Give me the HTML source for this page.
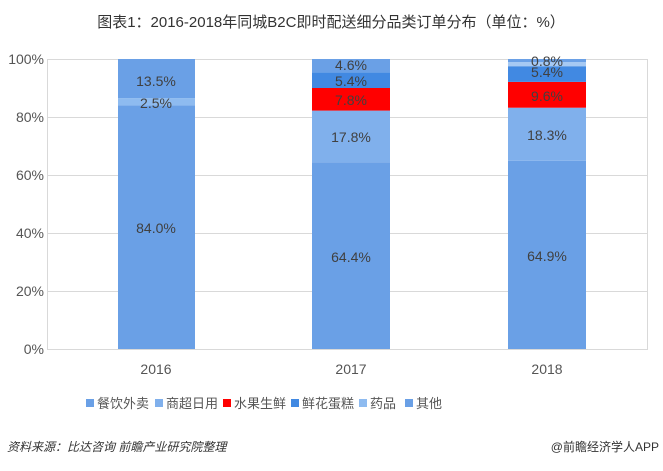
<!DOCTYPE html>
<html><head><meta charset="utf-8"><style>
body{margin:0;background:#fff;}
svg text{font-family:"Liberation Sans","Noto Sans CJK SC",sans-serif;}
</style></head><body>
<svg width="663" height="466" viewBox="0 0 663 466" xmlns="http://www.w3.org/2000/svg">
<rect width="663" height="466" fill="#fff"/>
<text x="331" y="27" text-anchor="middle" font-size="15" fill="#333">图表1：2016-2018年同城B2C即时配送细分品类订单分布（单位：%）</text>
<g stroke="#d9d9d9" stroke-width="1">
<rect x="47.5" y="59.5" width="600" height="290" fill="none"/>
<line x1="47" y1="117.5" x2="648" y2="117.5"/>
<line x1="47" y1="175.5" x2="648" y2="175.5"/>
<line x1="47" y1="233.5" x2="648" y2="233.5"/>
<line x1="47" y1="291.5" x2="648" y2="291.5"/>
</g>
<g font-size="14" fill="#555" text-anchor="end">
<text x="44" y="64">100%</text><text x="44" y="122">80%</text><text x="44" y="180">60%</text>
<text x="44" y="238">40%</text><text x="44" y="296">20%</text><text x="44" y="354">0%</text>
</g>
<rect x="118" y="105.4" width="77" height="243.6" fill="#6aa0e6"/>
<rect x="118" y="98.1" width="77" height="7.3" fill="#8ebbf0"/>
<rect x="118" y="59" width="77" height="39.1" fill="#6aa0e6"/>
<rect x="312" y="162.2" width="78" height="186.8" fill="#6aa0e6"/>
<rect x="312" y="110.6" width="78" height="51.6" fill="#80b0ec"/>
<rect x="312" y="88" width="78" height="22.6" fill="#ff0000"/>
<rect x="312" y="72.3" width="78" height="15.7" fill="#4189e2"/>
<rect x="312" y="59" width="78" height="13.3" fill="#6aa0e6"/>
<rect x="508" y="160.8" width="78" height="188.2" fill="#6aa0e6"/>
<rect x="508" y="107.7" width="78" height="53.1" fill="#80b0ec"/>
<rect x="508" y="81.9" width="78" height="25.8" fill="#ff0000"/>
<rect x="508" y="66.2" width="78" height="15.7" fill="#4189e2"/>
<rect x="508" y="62" width="78" height="4.2" fill="#a6c9f3"/>
<rect x="508" y="59" width="78" height="3" fill="#6aa0e6"/>
<g font-size="14" fill="#404040" text-anchor="middle">
<text x="156" y="233">84.0%</text><text x="156" y="108">2.5%</text><text x="156" y="86">13.5%</text>
<text x="351" y="262">64.4%</text><text x="351" y="142">17.8%</text><text x="351" y="105">7.8%</text><text x="351" y="86">5.4%</text><text x="351" y="70">4.6%</text>
<text x="547" y="261">64.9%</text><text x="547" y="140">18.3%</text><text x="547" y="101">9.6%</text><text x="547" y="77">5.4%</text><text x="547" y="66">0.8%</text>
</g>
<g font-size="14" fill="#555" text-anchor="middle">
<text x="156" y="374">2016</text><text x="351" y="374">2017</text><text x="547" y="374">2018</text>
</g>
<g font-size="13" fill="#555">
<rect x="86" y="399" width="8" height="8" fill="#6aa0e6"/><text x="97" y="408">餐饮外卖</text>
<rect x="155" y="399" width="8" height="8" fill="#80b0ec"/><text x="166" y="408">商超日用</text>
<rect x="223" y="399" width="8" height="8" fill="#ff0000"/><text x="234" y="408">水果生鲜</text>
<rect x="291" y="399" width="8" height="8" fill="#4189e2"/><text x="302" y="408">鲜花蛋糕</text>
<rect x="359" y="399" width="8" height="8" fill="#8ebbf0"/><text x="370" y="408">药品</text>
<rect x="405" y="399" width="8" height="8" fill="#6aa0e6"/><text x="416" y="408">其他</text>
</g>
<text x="7" y="451" font-size="12" font-style="italic" fill="#333">资料来源：比达咨询 前瞻产业研究院整理</text>
<text x="659" y="451" font-size="12" fill="#333" text-anchor="end">@前瞻经济学人APP</text>
</svg>
</body></html>
